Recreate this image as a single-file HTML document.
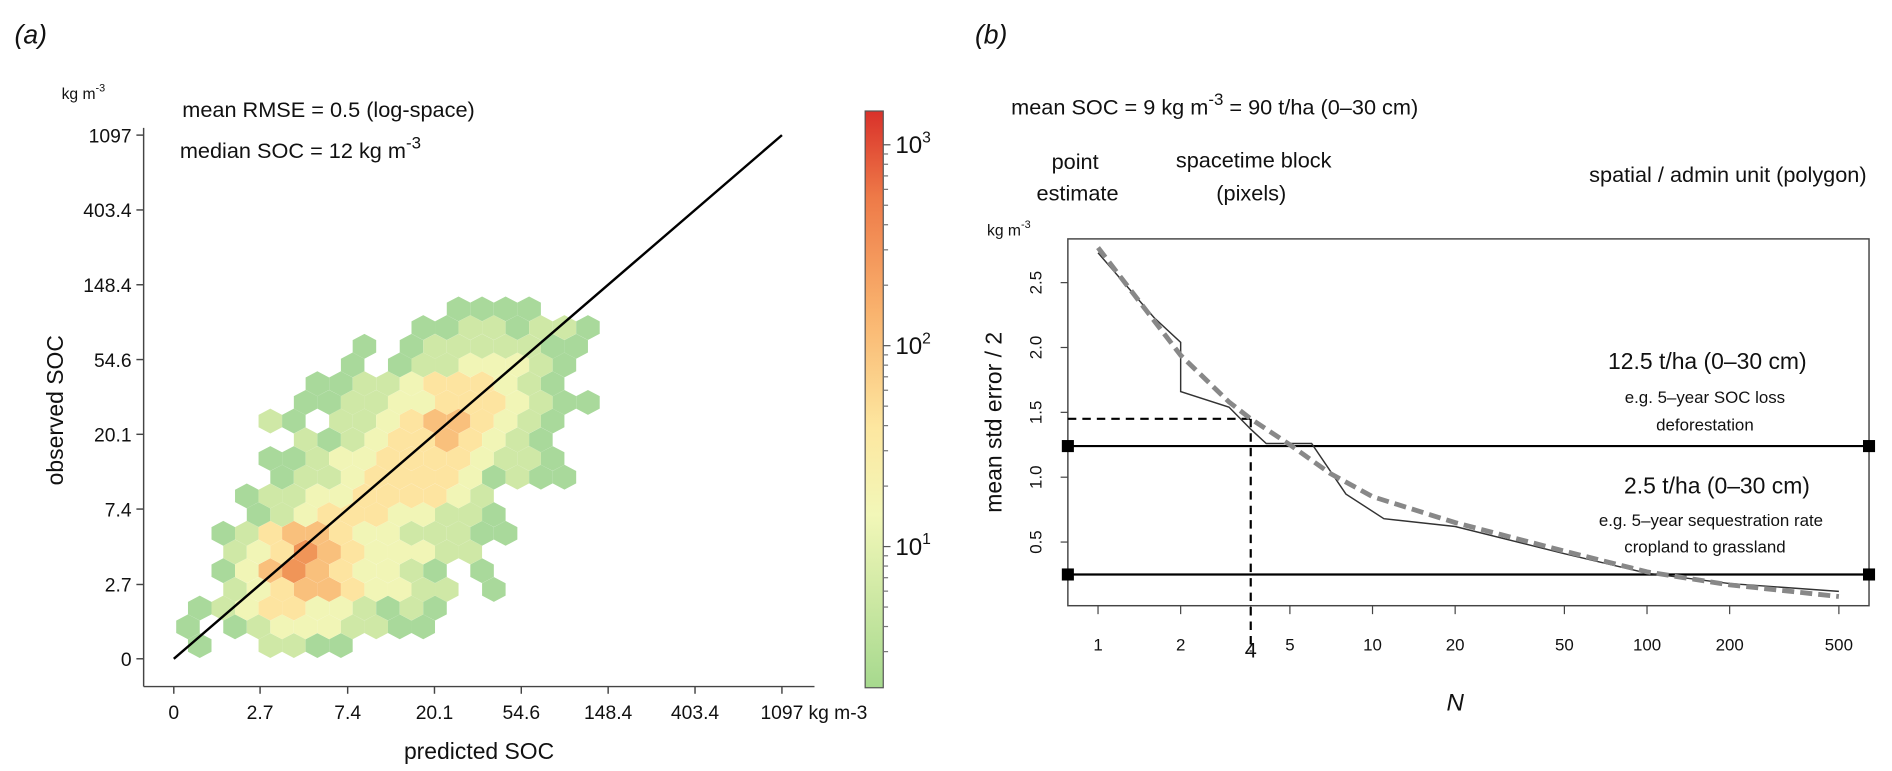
<!DOCTYPE html>
<html><head><meta charset="utf-8">
<style>
body{margin:0;background:#fff;}
svg text{font-family:"Liberation Sans",sans-serif;fill:#111;}
</style></head>
<body>
<svg id="fig" width="1892" height="771" viewBox="0 0 1568 639" xmlns="http://www.w3.org/2000/svg" style="position:absolute;left:0;top:0">
<defs>
<linearGradient id="cb" x1="0" y1="1" x2="0" y2="0">
<stop offset="0" stop-color="#a6d98e"/>
<stop offset="0.3" stop-color="#f2f7b8"/>
<stop offset="0.45" stop-color="#fde7a0"/>
<stop offset="0.65" stop-color="#f9b36e"/>
<stop offset="0.85" stop-color="#ee7a48"/>
<stop offset="1" stop-color="#d9312a"/>
</linearGradient>
</defs>
<g id="pa"></g>
<g id="pb"></g>
</svg>
<script>
// ---------- Panel (a) data ----------
const aTickLabels = ["0","2.7","7.4","20.1","54.6","148.4","403.4","1097"];
const aTickValues = [0,2.7,7.4,20.1,54.6,148.4,403.4,1097];
// hexbin rows (bottom to top); each char = count level, '.' = empty
const hexRows = [
".1..2211..............",
"1.123332211...........",
".12344332121..........",
"..2345543322.1........",
"..1356543321.1........",
"..23465433322.........",
"..1245543322211.......",
"...12344433221........",
"...12233444432........",
"....1223444431211.....",
"....1123344443221.....",
".....21234454321......",
"....21.2234554321.....",
".....1122334443211....",
"......11223444321.....",
".......1.12233321.....",
"........1.12222211....",
"..........11221221....",
"............1111......"
];
const hexLevelColors = ["#fff","#a9d99b","#cfe8a6","#f1f5b6","#fde4a0","#f9c07c","#f09558"];
const cbTickLabels = ["1","2","3"];

// ---------- Panel (b) data ----------
const bXTicks = [1,2,4,5,10,20,50,100,200,500];
const bYTicks = [0.5,1.0,1.5,2.0,2.5];
const lineN =   [1,1.6,2,2,3,3.6,4.1,6,8,11,20,50,100,200,500];
const lineErr = [2.73,2.23,2.04,1.66,1.54,1.37,1.26,1.26,0.87,0.68,0.62,0.41,0.26,0.18,0.12];
const fitN =   [1,2,3,3.6,5,7,10,20,50,100,200,500];
const fitErr = [2.77,1.94,1.58,1.45,1.25,1.03,0.85,0.65,0.43,0.27,0.17,0.08];
const thresholds = [1.24,0.25];
const guideN = 3.6, guideErr = 1.45;

const NS="http://www.w3.org/2000/svg";
function mk(parent,tag,attrs,text){const e=document.createElementNS(NS,tag);for(const k in attrs)e.setAttribute(k,attrs[k]);if(text!==undefined)e.textContent=text;parent.appendChild(e);return e;}
const pa=document.getElementById('pa'), pb=document.getElementById('pb');

// axis functions panel a (ticks evenly spaced in natural log)
const ax=v=>144+72*Math.log(Math.max(v,1));
const ay=v=>546-62*Math.log(Math.max(v,1));

// hexbins
const hw=19.5, rh=15.5, hh=10.3;
hexRows.forEach((row,j)=>{
  for(let c=0;c<row.length;c++){
    const ch=row[c]; if(ch==='.')continue;
    const cx=146+c*hw+(j%2?hw/2:0), cy=535-j*rh;
    const pts=[[cx,cy-hh],[cx+hw/2,cy-hh/2],[cx+hw/2,cy+hh/2],[cx,cy+hh],[cx-hw/2,cy+hh/2],[cx-hw/2,cy-hh/2]].map(p=>p.join(',')).join(' ');
    const el=mk(pa,'polygon',{points:pts,fill:hexLevelColors[+ch]});
    
    
  }
});
// 1:1 line
let l=mk(pa,'line',{x1:ax(0),y1:ay(0),x2:ax(1097),y2:ay(1097),stroke:'#000','stroke-width':2});

// axes
mk(pa,'line',{x1:119,y1:106,x2:119,y2:569,stroke:'#444','stroke-width':1.2,});
mk(pa,'line',{x1:119,y1:569,x2:675,y2:569,stroke:'#444','stroke-width':1.2,});
aTickValues.forEach((v,i)=>{
  mk(pa,'line',{x1:113,y1:ay(v),x2:119,y2:ay(v),stroke:'#444','stroke-width':1.2});
  let t=mk(pa,'text',{x:109,y:ay(v)+6,'text-anchor':'end','font-size':16},aTickLabels[i]);
  
  mk(pa,'line',{x1:ax(v),y1:569,x2:ax(v),y2:575,stroke:'#444','stroke-width':1.2});
  let t2=mk(pa,'text',{x:ax(v),y:596,'text-anchor':'middle','font-size':16},aTickLabels[i]);
  
});
// colorbar
mk(pa,'rect',{x:717,y:92,width:15,height:478,fill:'url(#cb)',stroke:'#555','stroke-width':1,});
const cbY=d=>453-(d-1)*166.5;
cbTickLabels.forEach(s=>{const d=+s;const y=cbY(d);
  mk(pa,'line',{x1:732,y1:y,x2:738,y2:y,stroke:'#555'});
  const t=mk(pa,'text',{x:742,y:y+7,'font-size':20});
  
  t.textContent='10';mk(t,'tspan',{dy:-9,'font-size':13},s);
});
for(let d=0;d<=3.4;d+=1){for(let m=2;m<10;m++){const y=cbY(d+Math.log10(m));if(y>94&&y<568)mk(pa,'line',{x1:732,y1:y,x2:736,y2:y,stroke:'#777'});}}

// ---------- Panel b axis functions ----------
const bx=n=>910+227.5*Math.log10(n);
const by=v=>503-v*107.5;
mk(pb,'rect',{x:885,y:198,width:664,height:304,fill:'none',stroke:'#444','stroke-width':1.2,});
bXTicks.forEach(n=>{
  const big=n===4;
  const xn=big?bx(guideN):bx(n);
  mk(pb,'line',{x1:xn,y1:502,x2:xn,y2:509,stroke:'#444'});
  const t=mk(pb,'text',{x:xn,y:big?545:539,'text-anchor':'middle','font-size':big?18:14},String(n));
  
});
bYTicks.forEach(v=>{
  mk(pb,'line',{x1:879,y1:by(v),x2:885,y2:by(v),stroke:'#444'});
  const t=mk(pb,'text',{x:863,y:by(v),'text-anchor':'middle','font-size':14,transform:`rotate(-90 863 ${by(v)})`},v.toFixed(1));
  
});
// threshold lines
thresholds.forEach(v=>{
  const g=mk(pb,'g',{});
  
  mk(g,'line',{x1:885,y1:by(v),x2:1549,y2:by(v),stroke:'#000','stroke-width':1.8});
  mk(g,'rect',{x:880,y:by(v)-5,width:10,height:10,fill:'#000'});
  mk(g,'rect',{x:1544,y:by(v)-5,width:10,height:10,fill:'#000'});
});
// dashed guides
mk(pb,'line',{x1:885,y1:by(guideErr),x2:bx(guideN),y2:by(guideErr),stroke:'#000','stroke-width':1.8,'stroke-dasharray':'7,5',});
mk(pb,'line',{x1:bx(guideN),y1:by(guideErr),x2:bx(guideN),y2:540,stroke:'#000','stroke-width':1.8,'stroke-dasharray':'7,5',});
// series
let p=mk(pb,'polyline',{points:lineN.map((n,i)=>bx(n)+','+by(lineErr[i])).join(' '),fill:'none',stroke:'#333','stroke-width':1.2});

let p2=mk(pb,'polyline',{points:fitN.map((n,i)=>bx(n)+','+by(fitErr[i])).join(' '),fill:'none',stroke:'#888','stroke-width':4,'stroke-dasharray':'10,5'});

</script>
<svg width="1892" height="771" viewBox="0 0 1568 639" style="position:absolute;left:0;top:0">
<g style="font-family:'Liberation Sans',sans-serif" fill="#111">
<text x="12" y="36" font-size="22" font-style="italic">(a)</text>
<text x="808" y="36" font-size="22" font-style="italic">(b)</text>
<text x="51" y="82" font-size="13">kg m<tspan dy="-6" font-size="9">-3</tspan></text>
<text x="151" y="97" font-size="18">mean RMSE = 0.5 (log-space)</text>
<text x="149" y="131" font-size="18">median SOC = 12 kg m<tspan dy="-8" font-size="14">-3</tspan></text>
<text x="52" y="340" font-size="19" transform="rotate(-90 52 340)" text-anchor="middle">observed SOC</text>
<text x="397" y="629" font-size="19" text-anchor="middle">predicted SOC</text>
<text x="670" y="596" font-size="16">kg m-3</text>
<text x="838" y="95" font-size="18">mean SOC = 9 kg m<tspan dy="-8" font-size="14">-3</tspan><tspan dy="8"> = 90 t/ha (0–30 cm)</tspan></text>
<text x="891" y="140" font-size="18" text-anchor="middle">point</text>
<text x="893" y="166" font-size="18" text-anchor="middle">estimate</text>
<text x="1039" y="139" font-size="18" text-anchor="middle">spacetime block</text>
<text x="1037" y="166" font-size="18" text-anchor="middle">(pixels)</text>
<text x="1547" y="151" font-size="18" text-anchor="end">spatial / admin unit (polygon)</text>
<text x="818" y="195" font-size="13">kg m<tspan dy="-6" font-size="9">-3</tspan></text>
<text x="830" y="350" font-size="19" transform="rotate(-90 830 350)" text-anchor="middle">mean std error / 2</text>
<text x="1415" y="306" font-size="19" text-anchor="middle">12.5 t/ha (0–30 cm)</text>
<text x="1413" y="334" font-size="14" text-anchor="middle">e.g. 5–year SOC loss</text>
<text x="1413" y="357" font-size="14" text-anchor="middle">deforestation</text>
<text x="1423" y="409" font-size="19" text-anchor="middle">2.5 t/ha (0–30 cm)</text>
<text x="1418" y="436" font-size="14" text-anchor="middle">e.g. 5–year sequestration rate</text>
<text x="1413" y="458" font-size="14" text-anchor="middle">cropland to grassland</text>
<text x="1206" y="589" font-size="20" font-style="italic" text-anchor="middle">N</text>
</g>
</svg>
</body></html>
